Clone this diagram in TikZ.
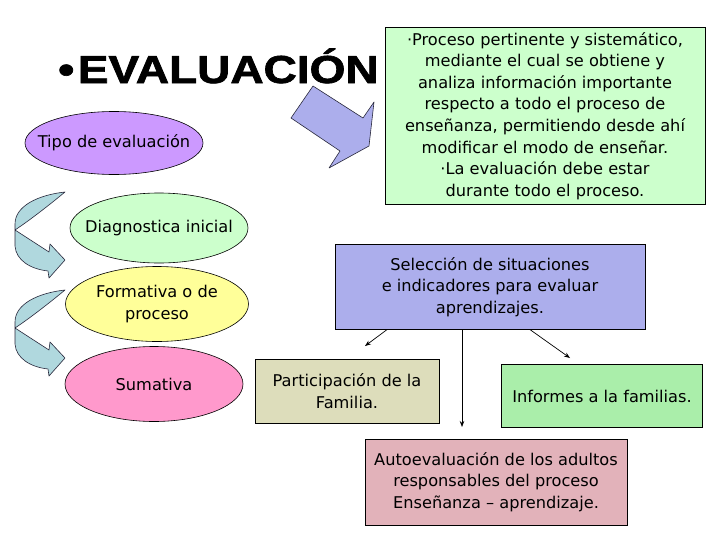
\documentclass[tikz,border=0pt]{standalone}
\usepackage{fontspec}
\setmainfont{DejaVu Sans}
\newfontfamily\titlefont{Liberation Sans}[BoldFeatures={FakeBold=1.6}]
\usetikzlibrary{shapes.geometric,arrows.meta,calc}
\definecolor{cgreen}{RGB}{204,255,204}
\definecolor{cpurple}{RGB}{204,153,255}
\definecolor{cyellow}{RGB}{255,255,153}
\definecolor{cpink}{RGB}{255,153,204}
\definecolor{cblue}{RGB}{172,174,236}
\definecolor{ccurve}{RGB}{176,216,222}
\definecolor{ckhaki}{RGB}{221,221,187}
\definecolor{cinf}{RGB}{170,238,170}
\definecolor{crose}{RGB}{226,178,186}
\definecolor{cline}{RGB}{40,40,60}
\begin{document}
\begin{tikzpicture}[x=1pt,y=-1pt,
  txt/.style={font=\fontsize{16.2}{21.6}\selectfont, align=center, text=black},
  ell/.style={ellipse, draw=black, line width=0.6pt, inner sep=0pt, txt},
  box/.style={rectangle, draw=black, line width=0.8pt, inner sep=0pt, txt},
  conn/.style={-{Stealth[length=6pt,width=4.5pt]}, line width=0.7pt, draw=black},
  shapeline/.style={draw=cline, line width=0.6pt, line join=round}]
\useasboundingbox (0,0) rectangle (728,546);
\fill[white] (0,0) rectangle (728,546);

% title
\node[anchor=base west, inner sep=0pt, font=\titlefont\bfseries\fontsize{39}{39}\selectfont] (title) at (58,83)
  {\scalebox{1.18}[1]{•\hspace{3pt}EVALUACIÓN}};

% big block arrow
\path[shapeline, fill=cblue] (291,118) -- (313,86) -- (363,118) -- (374,102) -- (369,146) -- (329,168) -- (340,151) -- cycle;

% definition box
\node[box, fill=cgreen, minimum width=320, minimum height=177] (def) at (545,116)
  {·Proceso pertinente y sistemático,\\
   mediante el cual se obtiene y\\
   analiza información importante\\
   respecto a todo el proceso de\\
   enseñanza, permitiendo desde ahí\\
   modificar el modo de enseñar.\\
   ·La evaluación debe estar\\
   durante todo el proceso.};

% curved arrows
\foreach \dy in {0,98} {
  \path[shapeline, fill=ccurve, shift={(0,\dy)}]
    (65,192) .. controls (38,195) and (15,206) .. (15,224)
    -- (15,246) .. controls (16,260) and (30,269) .. (48,271)
    -- (49,278) -- (65,260) -- (50,244) -- (49,252)
    -- (15,230) .. controls (30,220) and (48,206) .. (65,192) -- cycle;
}

% ellipses
\node[ell, fill=cpurple, minimum width=178, minimum height=63] (tipo) at (114,143) {\makebox[0pt]{Tipo de evaluación}};
\node[ell, fill=cgreen, minimum width=178, minimum height=70] (diag) at (159,228) {\makebox[0pt]{Diagnostica inicial}};
\node[ell, fill=cyellow, minimum width=183, minimum height=75] (form) at (157,304) {Formativa o de\\proceso};
\node[ell, fill=cpink, minimum width=178, minimum height=75] (suma) at (154,384) {Sumativa};

% lower boxes
\node[box, fill=cblue, minimum width=310, minimum height=85] (sel) at (490,287)
  {Selección de situaciones\\e indicadores para evaluar\\aprendizajes.};
\node[box, fill=ckhaki, minimum width=184, minimum height=64] (part) at (347,391)
  {Participación de la\\Familia.};
\node[box, fill=cinf, minimum width=201, minimum height=63] (inf) at (602,396)
  {Informes a la familias.};
\node[box, fill=crose, minimum width=262, minimum height=86] (auto) at (496,482)
  {Autoevaluación de los adultos\\responsables del proceso\\Enseñanza – aprendizaje.};

% connectors
\coordinate (s1) at (387,329.6);
\coordinate (s2) at (462,329.6);
\coordinate (s3) at (530,329.6);
\coordinate (e1) at (365,346);
\coordinate (e2) at (462,427);
\coordinate (e3) at (570,358);
\draw[conn] (s1) -- (e1);
\draw[conn] (s2) -- (e2);
\draw[conn] (s3) -- (e3);
\end{tikzpicture}
\end{document}
